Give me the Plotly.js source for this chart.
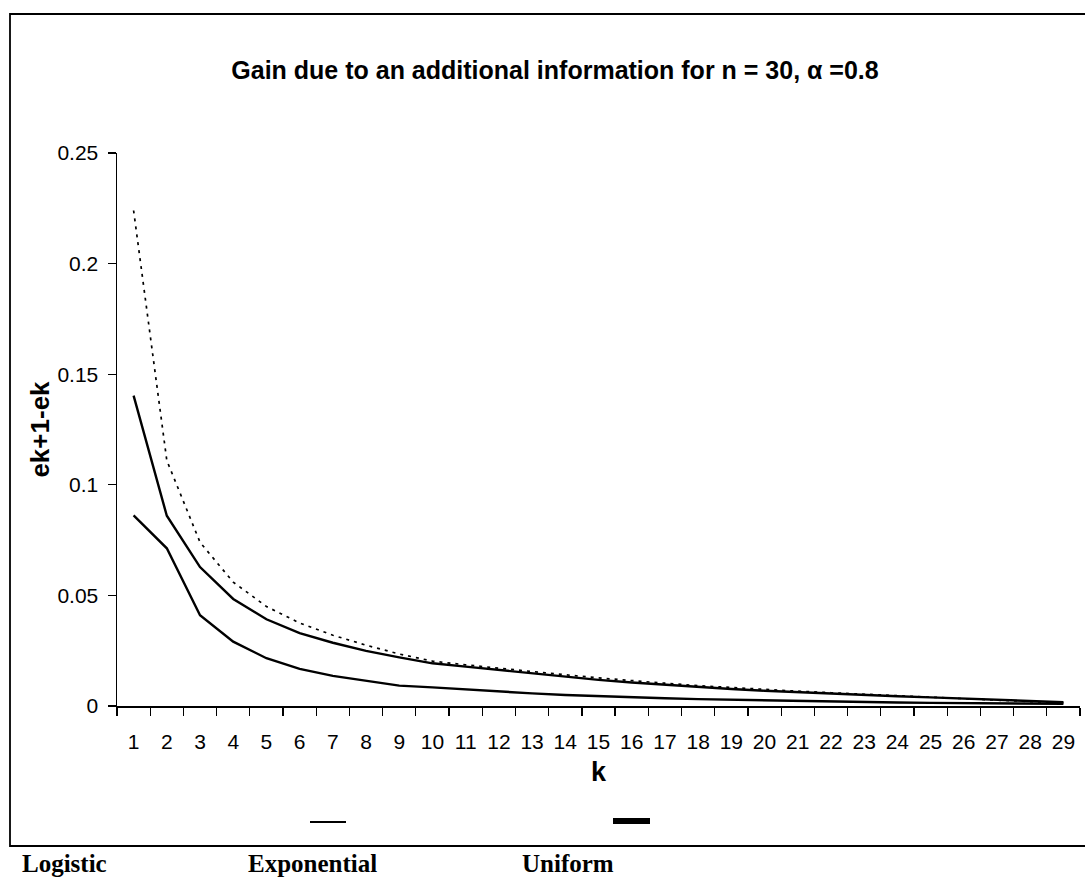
<!DOCTYPE html>
<html>
<head>
<meta charset="utf-8">
<script src="https://cdn.plot.ly/plotly-3.0.1.min.js"></script>
<style>html,body{margin:0;padding:0;background:#fff;}#chart{width:1085px;height:890px;}</style>
</head>
<body>
<div id="chart"></div>
<script>
// categories k = 1..29
const kLabels = ["1","2","3","4","5","6","7","8","9","10","11","12","13","14","15","16","17","18","19","20","21","22","23","24","25","26","27","28","29"];
// dotted curve (largest gain)
const logisticGain = [0.224,0.111,0.074,0.056,0.045,0.0375,0.032,0.0275,0.0235,0.0203,0.0186,0.017,0.0155,0.0141,0.0127,0.0114,0.0103,0.0092,0.0083,0.0075,0.0067,0.006,0.0053,0.0046,0.004,0.0033,0.0026,0.002,0.0015];
// upper solid curve
const exponentialGain = [0.1403,0.086,0.0628,0.0484,0.0392,0.0329,0.0286,0.0249,0.022,0.0193,0.0178,0.0163,0.0145,0.0132,0.0118,0.0106,0.0096,0.0085,0.0077,0.0069,0.0062,0.0056,0.005,0.0044,0.0039,0.0034,0.0029,0.0023,0.0017];
// lower solid curve
const uniformGain = [0.0862,0.0713,0.041,0.0291,0.0216,0.0168,0.0136,0.0113,0.0092,0.0084,0.0074,0.0065,0.0057,0.005,0.0044,0.0039,0.0035,0.0031,0.0028,0.0025,0.0022,0.002,0.0018,0.0016,0.0014,0.0013,0.0012,0.0011,0.001];
const yTicks = [0,0.05,0.1,0.15,0.2,0.25];
const yTickText = ["0","0.05","0.1","0.15","0.2","0.25"];
const legendNames = ["Logistic","Exponential","Uniform"];

// plot area in pixels
const L = 117, R = 1080, T = 153, B = 706;
const W = 1085, H = 890;
const px = x => (x - L) / (R - L);
const py = y => (B - y) / (B - T);

const traces = [
  {x: kLabels, y: logisticGain, name: legendNames[0], type: 'scatter', mode: 'lines',
   line: {color: '#000', width: 1.7, dash: '3px,5px'}},
  {x: kLabels, y: exponentialGain, name: legendNames[1], type: 'scatter', mode: 'lines',
   line: {color: '#000', width: 2.4}},
  {x: kLabels, y: uniformGain, name: legendNames[2], type: 'scatter', mode: 'lines',
   line: {color: '#000', width: 2.4}}
];

const sans = '"Liberation Sans", Arial, sans-serif';
const serif = '"Liberation Serif", "DejaVu Serif", serif';

const layout = {
  width: W, height: H,
  margin: {l: L, r: W - R, t: T, b: H - B, pad: 0},
  paper_bgcolor: '#fff', plot_bgcolor: '#fff',
  showlegend: false,
  title: {text: 'Gain due to an additional information for n = 30, α =0.8',
          font: {family: sans, size: 25, color: '#000', weight: 'bold'},
          x: px(555), xref: 'paper', xanchor: 'center', y: 1 - 70 / H, yanchor: 'middle'},
  xaxis: {
    type: 'category', range: [-0.5, 28.5], tickson: 'boundaries', ticks: 'outside', ticklen: 8, tickwidth: 1.2, tickcolor: '#000',
    showline: true, linecolor: '#000', linewidth: 1.5, showgrid: false, zeroline: false,
    tickangle: 0, tickfont: {family: sans, size: 21, color: '#000'}, ticklabelstandoff: 16,
    title: {text: 'k', font: {family: sans, size: 27, color: '#000', weight: 'bold'}, standoff: 10},
    fixedrange: true
  },
  yaxis: {
    range: [0, 0.25], tickvals: yTicks, ticktext: yTickText, ticks: 'outside', ticklen: 8, tickwidth: 1.2, tickcolor: '#000',
    showline: true, linecolor: '#000', linewidth: 1.5, showgrid: false, zeroline: false,
    tickfont: {family: sans, size: 21, color: '#000'}, ticklabelstandoff: 5,
    title: {text: 'ek+1-ek', font: {family: sans, size: 26, color: '#000', weight: 'bold'}, standoff: 0},
    fixedrange: true
  },
  shapes: [
    {type: 'rect', xref: 'paper', yref: 'paper', x0: px(10), x1: px(1100), y0: py(846), y1: py(14),
     line: {color: '#000', width: 1.8}, fillcolor: 'rgba(0,0,0,0)'},
    {type: 'line', xref: 'paper', yref: 'paper', x0: px(310), x1: px(346), y0: py(822), y1: py(822),
     line: {color: '#000', width: 2}},
    {type: 'line', xref: 'paper', yref: 'paper', x0: px(613), x1: px(650), y0: py(821), y1: py(821),
     line: {color: '#000', width: 6}}
  ],
  annotations: [
    {text: '<b>' + legendNames[0] + '</b>', xref: 'paper', yref: 'paper', x: px(64), y: py(864), showarrow: false,
     xanchor: 'center', yanchor: 'middle', font: {family: serif, size: 25, color: '#000'}},
    {text: '<b>' + legendNames[1] + '</b>', xref: 'paper', yref: 'paper', x: px(312), y: py(864), showarrow: false,
     xanchor: 'center', yanchor: 'middle', font: {family: serif, size: 25, color: '#000'}},
    {text: '<b>' + legendNames[2] + '</b>', xref: 'paper', yref: 'paper', x: px(568), y: py(864), showarrow: false,
     xanchor: 'center', yanchor: 'middle', font: {family: serif, size: 25, color: '#000'}}
  ]
};

Plotly.newPlot('chart', traces, layout, {displayModeBar: false, staticPlot: true});
</script>
</body>
</html>
